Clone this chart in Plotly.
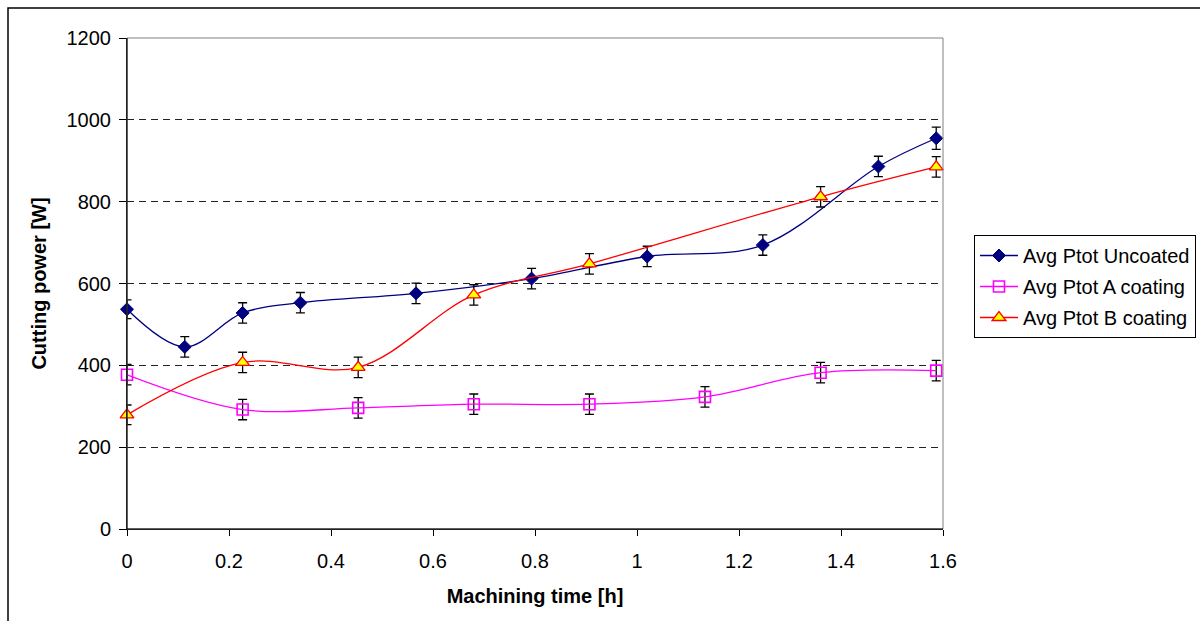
import plotly.graph_objects as go

# ---- data ----
t_uncoated = [0.0, 0.1133, 0.2267, 0.34, 0.5667, 0.7933, 1.02, 1.2467, 1.4733, 1.5867]
p_uncoated = [537, 445, 528, 553, 576, 612, 666, 694, 886, 955]
err_uncoated = [23, 25, 25, 25, 25, 25, 25, 25, 25, 27]

t_a = [0.0, 0.2267, 0.4533, 0.68, 0.9067, 1.1333, 1.36, 1.5867]
p_a = [377, 292, 296, 305, 305, 323, 382, 387]
err_a = [25, 25, 25, 25, 25, 25, 25, 25]

t_b = [0.0, 0.2267, 0.4533, 0.68, 0.9067, 1.36, 1.5867]
p_b = [279, 407, 395, 572, 648, 812, 885]
err_b = [24, 25, 25, 25, 25, 25, 25]

x_ticks = [0, 0.2, 0.4, 0.6, 0.8, 1, 1.2, 1.4, 1.6]
x_ticktext = ["0", "0.2", "0.4", "0.6", "0.8", "1", "1.2", "1.4", "1.6"]
y_ticks = [0, 200, 400, 600, 800, 1000, 1200]

FONT = "Liberation Sans, Arial, sans-serif"
FS = 20

def eb(arr):
    return dict(type="data", array=arr, visible=True, color="black",
                thickness=1.3, width=4.5)

fig = go.Figure()
fig.add_trace(go.Scatter(
    x=t_uncoated, y=p_uncoated, name="Avg Ptot Uncoated", mode="lines+markers",
    legendgroup="u",
    line=dict(color="#000080", width=1.3, shape="spline", smoothing=1.0),
    marker=dict(symbol="diamond", size=10, color="#000080",
                line=dict(color="#000080", width=1)),
    error_y=eb(err_uncoated), cliponaxis=False))
fig.add_trace(go.Scatter(
    x=t_a, y=p_a, name="Avg Ptot A coating", mode="lines+markers",
    legendgroup="a",
    line=dict(color="#FF00FF", width=1.3, shape="spline", smoothing=1.0),
    marker=dict(symbol="square-open", size=11, color="#FF00FF",
                line=dict(color="#FF00FF", width=1.6)),
    error_y=eb(err_a), cliponaxis=False))
fig.add_trace(go.Scatter(
    x=t_b, y=p_b, name="Avg Ptot B coating", mode="lines+markers",
    legendgroup="b",
    line=dict(color="#FF0000", width=1.3, shape="spline", smoothing=1.0),
    marker=dict(symbol="triangle-up", size=12, color="#FFFF00",
                line=dict(color="#FF0000", width=1.3)),
    error_y=eb(err_b), cliponaxis=False))

L, R, T, B = 127, 257, 38, 92
W, H = 1200, 621
pw, ph = W - L - R, H - T - B

fig.update_layout(
    width=W, height=H,
    margin=dict(l=L, r=R, t=T, b=B, pad=0, autoexpand=False),
    paper_bgcolor="white", plot_bgcolor="white",
    font=dict(family=FONT, size=FS, color="black"),
    showlegend=True,
    legend=dict(xref="container", yref="container",
                x=974 / W, y=1 - 235 / H, xanchor="left", yanchor="top",
                bordercolor="black", borderwidth=1, bgcolor="white",
                font=dict(family=FONT, size=FS, color="black"),
                tracegroupgap=2, itemwidth=38),
    xaxis=dict(range=[0, 1.6], tickvals=x_ticks, ticktext=x_ticktext,
               showgrid=False, zeroline=False, showline=True, linecolor="black",
               linewidth=1, ticks="outside", ticklen=6, tickcolor="black",
               ticklabelstandoff=8,
               tickfont=dict(family=FONT, size=FS),
               title=dict(text="<b>Machining time [h]</b>", standoff=17,
                          font=dict(family=FONT, size=FS))),
    yaxis=dict(range=[0, 1200], tickvals=y_ticks,
               showgrid=True, gridcolor="#222222", griddash="7px,5px", gridwidth=1,
               zeroline=False, showline=True, linecolor="black", linewidth=1,
               ticks="outside", ticklen=7, tickcolor="black",
               ticklabelstandoff=4,
               tickfont=dict(family=FONT, size=FS),
               title=dict(text="<b>Cutting power [W]</b>", standoff=14,
                          font=dict(family=FONT, size=FS))),
    shapes=[
        # plot-area border (grey, top & right)
        dict(type="rect", xref="paper", yref="paper", x0=0, x1=1, y0=0, y1=1,
             line=dict(color="#808080", width=1), layer="above"),
        # chart-area outer border
        dict(type="rect", xref="paper", yref="paper",
             x0=(8 - L) / pw, x1=1.6, y0=-0.5, y1=(H - B - 8) / ph,
             line=dict(color="black", width=1.5), layer="below"),
    ],
)
# redraw black axis lines above the grey border
fig.add_shape(type="line", xref="paper", yref="paper", x0=0, x1=0, y0=0, y1=1,
              line=dict(color="black", width=1), layer="above")
fig.add_shape(type="line", xref="paper", yref="paper", x0=0, x1=1, y0=0, y1=0,
              line=dict(color="black", width=1), layer="above")

fig.write_html("out.html")
